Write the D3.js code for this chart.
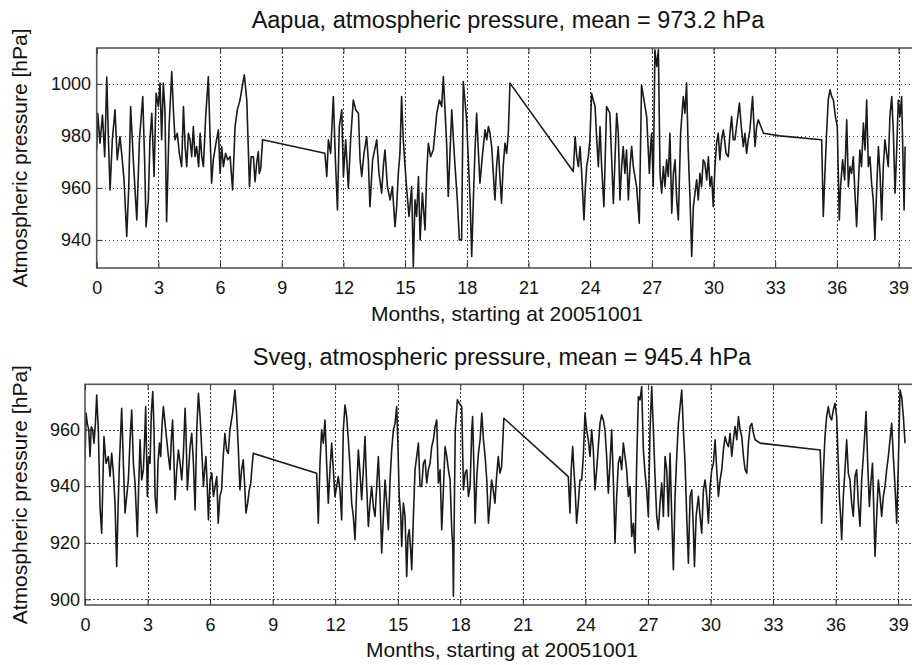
<!DOCTYPE html>
<html><head><meta charset="utf-8">
<script src="https://cdn.jsdelivr.net/npm/d3@7"></script>
<style>
html,body{margin:0;padding:0;background:#fff;}
svg{display:block;}
text{font-family:"Liberation Sans",Arial,Helvetica,sans-serif;fill:#111;}
</style></head>
<body>
<svg id="chart" width="912" height="665"></svg>
<script>
// ---------- DATA ----------
const xTicks = [0,3,6,9,12,15,18,21,24,27,30,33,36,39];
const aapuaTicks = [940,960,980,1000];
const svegTicks = [900,920,940,960];
const aapuaTitle = "Aapua, atmospheric pressure, mean = 973.2 hPa";
const svegTitle = "Sveg, atmospheric pressure, mean = 945.4 hPa";
const xLabel = "Months, starting at 20051001";
const yLabel = "Atmospheric pressure [hPa]";

const aapuaMonths = [0,0.05,0.16,0.28,0.39,0.49,0.57,0.65,0.76,0.89,1.0,1.13,1.23,1.33,1.46,1.56,1.65,1.78,1.95,2.08,2.24,2.33,2.4,2.51,2.59,2.68,2.79,2.89,3.0,3.08,3.16,3.24,3.32,3.4,3.52,3.65,3.73,3.81,3.92,4.02,4.13,4.22,4.3,4.38,4.46,4.54,4.62,4.7,4.78,4.86,4.96,5.03,5.11,5.19,5.3,5.43,5.51,5.59,5.67,5.8,5.92,6.0,6.08,6.16,6.27,6.37,6.49,6.61,6.73,6.84,6.97,7.08,7.18,7.3,7.36,7.43,7.51,7.62,7.7,7.78,7.86,7.91,7.98,8.07,
11.1,11.19,11.27,11.38,11.51,11.61,11.71,11.8,11.92,12.0,12.11,12.24,12.35,12.48,12.6,12.73,12.81,12.89,13.0,13.13,13.21,13.29,13.42,13.62,13.73,13.86,13.94,14.02,14.14,14.27,14.38,14.51,14.59,14.67,14.75,14.83,14.91,15.0,15.08,15.19,15.32,15.4,15.48,15.56,15.65,15.73,15.84,15.97,16.05,16.13,16.24,16.37,16.45,16.54,16.67,16.78,16.86,16.94,17.02,17.1,17.19,17.27,17.35,17.43,17.54,17.64,17.75,17.83,17.91,17.99,18.07,18.16,18.24,18.32,18.4,18.48,18.56,18.64,18.77,18.89,18.97,19.05,19.13,19.21,19.29,19.37,19.45,19.53,19.61,19.69,19.77,19.86,19.94,20.02,20.1,
23.18,23.27,23.35,23.43,23.51,23.59,23.7,23.77,23.83,23.91,23.99,24.07,24.15,24.24,24.32,24.4,24.48,24.56,24.67,24.8,24.96,25.13,25.29,25.37,25.45,25.53,25.61,25.69,25.77,25.86,25.94,26.02,26.1,26.26,26.39,26.5,26.62,26.75,26.88,26.94,26.99,27.07,27.15,27.24,27.32,27.4,27.48,27.56,27.64,27.72,27.8,27.88,27.97,28.05,28.13,28.21,28.29,28.4,28.53,28.61,28.69,28.77,28.86,28.94,29.02,29.1,29.18,29.26,29.34,29.42,29.5,29.58,29.67,29.75,29.83,29.91,29.99,30.07,30.15,30.23,30.31,30.39,30.48,30.61,30.72,30.8,30.88,30.96,31.04,31.16,31.26,31.35,31.45,31.53,31.61,31.69,31.77,31.9,31.97,32.02,32.1,32.18,32.43,33.23,
35.26,35.34,35.42,35.5,35.58,35.67,35.75,35.83,35.93,36.02,36.12,36.18,36.28,36.38,36.48,36.56,36.64,36.72,36.8,36.88,36.96,37.04,37.12,37.2,37.29,37.37,37.45,37.53,37.61,37.69,37.77,37.85,37.94,38.02,38.1,38.18,38.26,38.34,38.42,38.5,38.58,38.67,38.75,38.83,38.91,38.99,39.07,39.15,39.27,39.32];
const aapuaHpa = [974.6,988.7,977.2,988,972,1002.6,978.5,959.2,978.5,990,970.8,979.7,972,963,941.3,960.5,991.3,970.8,947.7,978.5,995.1,970.8,945.1,955.4,978.5,988.7,964.4,996.4,991.3,1000.3,978.5,1000.3,990,947,983.6,1004.7,990,978.5,981,973.3,968.2,991.3,975.9,968.2,981,978.5,972,983.6,972,975.9,968.2,981,972,968.2,987.4,1002.8,981,961.8,970.8,977.2,982.3,965.6,975.9,968.2,973.3,970.8,972,959.2,983.6,990,993.8,999,1003.5,993.8,978.5,960.5,972,972,962.4,969.5,974,965.6,967.6,978.5,
973.3,964.4,978.5,973.3,995.1,970.8,951.5,983.6,990,964.4,978.5,959.9,978.5,993.8,990,988.7,970.8,964.4,973.3,979.7,970.8,952.8,970.8,978.5,965.6,958,968.2,974.6,960.5,955.4,960.5,945.1,952.8,965.6,973.3,995.1,978.5,968.2,959.2,949,960.5,929.7,955.4,949,964.4,940,958,943.8,965.6,977.2,972,974.6,981,988.7,993.8,991.3,1002.8,990,977.2,956.7,974.6,990,978.5,968.2,955.4,940,940,1000.9,993.8,986.2,972,955.4,933.6,955.4,974.6,988.7,974.6,961.8,973.3,982.3,978.5,983.6,981,975.9,965.6,955.4,968.2,975.9,964.4,954.1,968.2,977.2,973.3,981,1000.3,
966.3,979.7,972,968.2,975.9,965.6,947.7,960.5,968.2,972,978.5,996.4,993.8,991.3,978.5,968.2,983.6,968.2,952.8,991.3,988.7,954,988.7,981,955.4,968.2,975.9,965.6,974.6,955.4,968.2,975.9,968.2,960.5,946.4,999.6,993.8,987.4,965.6,975.9,981,960.5,1013.1,1006.7,1013.1,965.6,958,968.2,960.5,970.8,964.4,981,950.3,965.6,970.8,955.4,947.7,981,995.1,988.7,1000.3,974.6,955.4,933.6,952.8,958,963.1,955.4,965.6,960.5,970.8,969.5,963.1,972,960.5,964.4,952.8,968.2,977.2,981,970.8,978.5,982.3,973.3,972,981,987.4,978.5,978.5,986.2,992.6,983.6,975.9,981,973.3,978.5,982.3,995.1,983.6,975.9,983.6,986.2,981,980,
978.5,949,965.6,981,993.8,997.7,995.1,993.8,987.4,983.6,947.7,960.5,970.8,963.1,986.2,960.5,968.2,965.6,972,958,945.1,960.5,974.6,968.2,984.9,974.6,993.8,968.2,972,961.8,955.4,940,960.5,975.9,965.6,947.7,968.2,978.5,973.3,968.2,987.4,995.1,981,958,974.6,993.8,987.4,995.1,951.5,975.9];

const svegMonths = [0,0.05,0.11,0.18,0.24,0.3,0.37,0.43,0.5,0.56,0.64,0.72,0.8,0.86,0.91,1.01,1.12,1.2,1.28,1.36,1.44,1.52,1.58,1.65,1.76,1.84,1.92,2.0,2.08,2.16,2.24,2.32,2.4,2.51,2.57,2.64,2.72,2.8,2.86,2.91,2.99,3.05,3.12,3.18,3.25,3.31,3.36,3.44,3.5,3.57,3.63,3.69,3.76,3.84,3.92,4.0,4.08,4.14,4.2,4.27,4.32,4.4,4.48,4.56,4.64,4.72,4.8,4.84,4.91,4.97,5.04,5.12,5.2,5.28,5.36,5.44,5.52,5.6,5.68,5.74,5.8,5.87,5.92,6.0,6.08,6.16,6.24,6.32,6.39,6.47,6.55,6.63,6.71,6.79,6.87,6.95,7.0,7.08,7.19,7.27,7.35,7.43,7.51,7.59,7.67,7.72,7.8,7.88,7.95,8.0,8.07,
11.11,11.19,11.27,11.35,11.43,11.51,11.59,11.67,11.75,11.83,11.91,11.99,12.07,12.15,12.23,12.31,12.39,12.47,12.55,12.63,12.71,12.79,12.87,12.95,13.03,13.11,13.19,13.27,13.35,13.43,13.51,13.59,13.67,13.75,13.83,13.91,13.99,14.07,14.15,14.23,14.31,14.39,14.47,14.55,14.63,14.71,14.79,14.87,14.95,15.01,15.07,15.14,15.19,15.27,15.35,15.43,15.49,15.55,15.62,15.67,15.75,15.83,15.91,15.99,16.07,16.15,16.23,16.31,16.39,16.47,16.55,16.63,16.71,16.79,16.87,16.95,17.03,17.11,17.19,17.27,17.35,17.43,17.51,17.59,17.64,17.67,17.72,17.76,17.86,17.95,18.07,18.15,18.23,18.31,18.39,18.47,18.55,18.59,18.66,18.71,18.79,18.87,18.95,19.03,19.11,19.19,19.27,19.35,19.43,19.5,19.58,19.66,19.74,19.82,19.9,19.98,20.09,
23.18,23.26,23.32,23.39,23.45,23.5,23.58,23.66,23.74,23.82,23.9,23.98,24.06,24.14,24.22,24.3,24.38,24.46,24.54,24.62,24.7,24.78,24.86,24.94,25.02,25.1,25.18,25.26,25.34,25.42,25.5,25.58,25.66,25.74,25.82,25.9,25.98,26.06,26.14,26.22,26.3,26.38,26.46,26.54,26.62,26.7,26.78,26.86,26.94,27.02,27.1,27.18,27.26,27.34,27.42,27.5,27.58,27.66,27.74,27.82,27.9,27.98,28.06,28.14,28.22,28.3,28.38,28.46,28.54,28.62,28.7,28.78,28.86,28.94,29.02,29.1,29.18,29.23,29.31,29.42,29.5,29.58,29.66,29.74,29.82,29.9,29.98,30.06,30.14,30.22,30.3,30.38,30.46,30.54,30.62,30.7,30.78,30.86,30.94,31.02,31.1,31.18,31.26,31.34,31.42,31.5,31.58,31.66,31.74,31.82,31.9,31.98,32.06,32.14,32.38,
35.26,35.3,35.33,35.41,35.49,35.57,35.65,35.73,35.81,35.89,35.97,36.05,36.13,36.18,36.24,36.29,36.37,36.45,36.53,36.61,36.69,36.77,36.85,36.93,37.01,37.09,37.17,37.25,37.33,37.41,37.46,37.54,37.62,37.69,37.77,37.84,37.89,37.97,38.05,38.13,38.21,38.29,38.37,38.45,38.53,38.61,38.69,38.77,38.85,38.93,39.01,39.09,39.17,39.25,39.33];
const svegHpa = [949.3,965.8,962.2,959.9,950.5,961,959.9,955.2,962.2,972.2,959.9,932.8,923.4,942.2,957.5,948.1,950.5,943.4,951.6,944.6,934,911.6,930.5,948.1,967.5,948.1,930.5,936.4,942.2,956.4,966.9,948.1,941.1,922.2,938.7,956.4,942.2,945.8,956.4,968.1,936.4,950.5,948.1,965.8,973.4,959.9,936.4,930.5,948.1,955.2,950.5,961,968.1,962.2,956.4,950.5,945.8,956.4,963.4,948.1,935.2,945.8,952.8,948.1,942.2,951.6,967.5,959.9,938.7,945.8,954,958.7,948.1,931.6,959.9,972.8,964.6,952.8,939.9,945.8,950.5,938.7,928.1,942.2,944.6,936.4,939.9,943.4,926.9,936.4,938.7,950.5,958.7,952.8,951.6,959.9,962.2,965.8,974,965.8,954,938.7,945.8,949.3,938.7,930.5,934,938.7,941.1,945.8,951.6,
944.6,926.9,948.1,959.9,955.2,963.4,948.1,934,945.8,955.2,945.8,936.4,939.9,943.4,938.7,928.1,959.9,968.7,964.6,956.4,946.9,934,929.3,921.1,938.7,952.8,944.6,935.2,945.8,957.5,939.9,925.8,934,939.9,932.8,929.3,939.9,950.5,936.4,916.4,929.3,942.2,934,924.6,942.2,952.8,959.9,962.2,968.1,954,936.4,930.5,918.7,934,929.3,908.1,922.2,924.6,917.5,910.5,929.3,945.8,950.5,955.2,939.9,939.9,948.1,949.3,941.1,945.8,948.1,954,956.4,961.1,963.4,941.1,945.8,924.6,938.7,954,950.5,945.8,942.2,924.6,918.7,901.1,936.4,959.9,970.5,969.3,968.1,938.7,944.6,945.8,936.4,939.9,959.9,964.6,944.6,926.9,943.4,951.6,956.4,965.8,956.4,950.5,942.2,926.9,934,942.2,938.7,934,943.4,950.5,944.6,946.9,964,
943.4,930.5,945.8,954,945.8,939.9,926.9,934,942.2,942.2,950.5,965.8,959.9,956.4,950.5,959.9,952.8,938.7,945.8,954,962.2,965.2,963.4,959.9,950.5,937.5,948.1,959.9,942.2,919.9,936.4,948.1,950.5,945.8,955.2,950.5,945.8,936.4,939.9,922.2,926.9,916.4,948.1,971.6,970.5,975.2,952.8,944.6,938.7,929.3,959.9,975.2,959.9,943.4,929.3,924.6,934,941.1,929.3,950.5,945.8,929.3,951.6,929.3,910.5,936.4,950.5,962.2,968.1,974,959.9,948.1,929.3,912.8,936.4,938.7,924.6,911.6,929.3,936.4,929.3,923.4,938.7,942.2,936.4,926.9,939.9,945.8,948.1,956.4,945.8,936.4,942.2,945.8,952.8,957.5,955.2,954,958.7,950.5,956.4,961.1,956.4,964.6,959.9,957.5,950.5,945.8,944.6,955.2,961.1,962.2,958.7,956.4,955.2,
952.8,944.6,926.9,944.6,957.5,964.6,968.1,964.6,963.4,966.9,969.3,964.6,948.1,936.4,929.3,921.1,936.4,945.8,956.4,944.6,942.2,934,929.3,943.4,945.8,934,925.8,942.2,950.5,959.9,966.4,948.1,932.8,941.1,948.1,929.3,915.2,929.3,942.2,936.4,929.3,936.4,939.9,945.8,950.5,956.4,962.2,950.5,939.9,926.9,948.1,974,971.6,964.6,955.2];

// ---------- DRAW ----------
const svg = d3.select("#chart");
const FONT_TITLE = 23.5, FONT_TICK = 18, FONT_LABEL = 21;

function panel(cfg){
  const x = d3.scaleLinear().domain([0,40]).range([cfg.left, cfg.left + 40*cfg.pxPerMonth]);
  const y = d3.scaleLinear().domain(cfg.yDomain).range([cfg.bottom, cfg.top]);
  const g = svg.append("g");
  const right = x.range()[1];
  const clipId = "clip" + cfg.id;
  svg.append("defs").append("clipPath").attr("id", clipId)
    .append("rect").attr("x", cfg.left).attr("y", cfg.top)
    .attr("width", right - cfg.left).attr("height", cfg.bottom - cfg.top);

  // grid
  const grid = g.append("g").attr("stroke", "#444").attr("stroke-width", 1)
    .attr("stroke-dasharray", "1.5,2.5").attr("shape-rendering","crispEdges");
  grid.selectAll("line.gx").data(xTicks.filter(d => d > 0)).join("line")
    .attr("x1", d => Math.round(x(d))+0.5).attr("x2", d => Math.round(x(d))+0.5)
    .attr("y1", cfg.top).attr("y2", cfg.bottom);
  grid.selectAll("line.gy").data(cfg.yTicks).join("line")
    .attr("x1", cfg.left).attr("x2", right)
    .attr("y1", d => Math.round(y(d))+0.5).attr("y2", d => Math.round(y(d))+0.5);

  // data line
  const pts = cfg.months.map((m,i) => [m, cfg.values[i]]);
  g.append("path").datum(pts)
    .attr("clip-path", `url(#${clipId})`)
    .attr("fill","none").attr("stroke","#1a1a1a").attr("stroke-width",1.6)
    .attr("stroke-linejoin","round")
    .attr("d", d3.line().x(d => x(d[0])).y(d => y(d[1])));

  // frame
  g.append("rect").attr("x", cfg.left).attr("y", cfg.top)
    .attr("width", right - cfg.left).attr("height", cfg.bottom - cfg.top)
    .attr("fill","none").attr("stroke","#555").attr("stroke-width",1.6);

  // axes (ticks inward, labels)
  const xAxis = d3.axisBottom(x).tickValues(xTicks).tickSize(-6).tickPadding(14)
    .tickFormat(d3.format("d"));
  const gx = g.append("g").attr("transform", `translate(0,${cfg.bottom})`).call(xAxis);
  gx.select(".domain").remove();
  gx.selectAll(".tick line").attr("stroke","#333");
  gx.selectAll("text").attr("font-size", FONT_TICK).attr("dy", "0.71em")
    .attr("y", cfg.xTickY - cfg.bottom).style("font-family","Liberation Sans, Arial, sans-serif").attr("fill","#111");

  const gxTop = g.append("g").attr("transform", `translate(0,${cfg.top})`)
    .call(d3.axisTop(x).tickValues(xTicks).tickSize(-6).tickFormat(""));
  gxTop.select(".domain").remove();
  gxTop.selectAll(".tick line").attr("stroke","#333");

  const yAxis = d3.axisLeft(y).tickValues(cfg.yTicks).tickSize(-6).tickPadding(cfg.left - cfg.yLabelRight - 6)
    .tickFormat(d3.format("d"));
  const gy = g.append("g").attr("transform", `translate(${cfg.left},0)`).call(yAxis);
  gy.select(".domain").remove();
  gy.selectAll(".tick line").attr("stroke","#333");
  gy.selectAll("text").attr("font-size", FONT_TICK)
    .style("font-family","Liberation Sans, Arial, sans-serif").attr("fill","#111");

  // title
  svg.append("text").attr("x", cfg.titleX).attr("y", cfg.titleY)
    .attr("text-anchor","middle").attr("font-size", FONT_TITLE).text(cfg.title);
  // x label
  svg.append("text").attr("x", cfg.xLabelX).attr("y", cfg.xLabelY)
    .attr("text-anchor","middle").attr("font-size", FONT_LABEL).text(xLabel);
  // y label
  svg.append("text").attr("transform", `translate(27,${(cfg.top+cfg.bottom)/2}) rotate(-90)`)
    .attr("text-anchor","middle").attr("font-size", FONT_LABEL).text(yLabel);
}

panel({id:"a", left:96.7, pxPerMonth:20.56, top:48, bottom:268, yDomain:[929.2,1013.8],
  yTicks:aapuaTicks, months:aapuaMonths, values:aapuaHpa, yLabelRight:85,
  xTickY:281, title:aapuaTitle, titleX:508, titleY:28, xLabelX:507, xLabelY:321});
panel({id:"s", left:85, pxPerMonth:20.85, top:384.3, bottom:605, yDomain:[898,976],
  yTicks:svegTicks, months:svegMonths, values:svegHpa, yLabelRight:74,
  xTickY:618, title:svegTitle, titleX:502, titleY:365, xLabelX:502, xLabelY:657});
</script>
</body></html>
